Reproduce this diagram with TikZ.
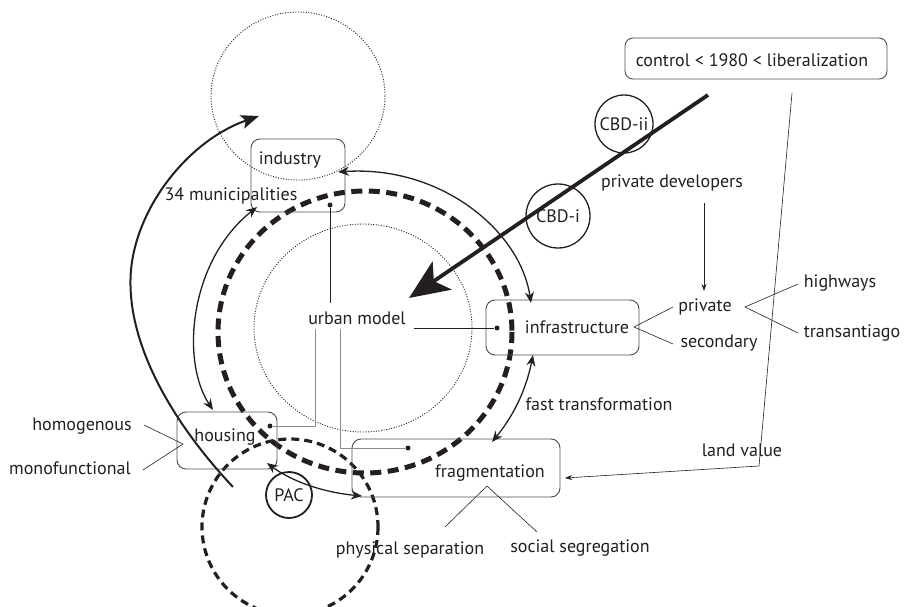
\documentclass[tikz,border=0pt]{standalone}
\usepackage{fontspec}
\setmainfont{PT Sans}
\usetikzlibrary{arrows.meta}
\definecolor{ink}{HTML}{231F20}
\definecolor{boxgray}{HTML}{4D4D4D}
\definecolor{linegray}{HTML}{8A8A8A}
\tikzset{
 box/.style={draw=boxgray, line width=0.9pt, rounded corners=9pt, inner sep=0pt},
 lbl/.style={text=ink, inner sep=0pt},
 thinl/.style={draw=ink, line width=0.6pt},
 grayl/.style={draw=linegray, line width=1pt},
 arcl/.style={draw=ink, line width=1.3pt, {Stealth[length=11pt,width=9pt]}-{Stealth[length=11pt,width=9pt]}},
 dotc/.style={draw=ink, line width=0.9pt, dash pattern=on 1pt off 1.6pt},
 blob/.style={circle, fill=ink, inner sep=0pt, minimum size=5pt},
 cbd/.style={circle, draw=ink, line width=1.3pt, inner sep=0pt, text=ink},
}
\begin{document}
\begin{tikzpicture}[x=1pt,y=-1pt, font=\fontsize{18}{21}\selectfont]
\useasboundingbox (0,0) rectangle (905,607);
% circles
\draw[dotc] (298,96) ellipse[x radius=87, y radius=84];
\draw[dotc] (363,328) ellipse[x radius=109, y radius=104];
\draw[draw=ink, line width=5pt, dash pattern=on 11pt off 6.5pt] (365,332) ellipse[x radius=147, y radius=141];
\draw[draw=ink, line width=3.2pt, dash pattern=on 8pt off 5pt] (290,527) circle[radius=88];
% boxes
\node[box, minimum width=94pt, minimum height=73pt] (indbox) at (298,175.5) {};
\node[lbl] (ind) at (290,160) {industry};
\node[lbl] (mun) at (231,196) {34 municipalities};
\node[box, minimum width=153pt, minimum height=55pt] (infbox) at (562.5,327.5) {};
\node[lbl] (inf) at (577,327) {infrastructure};
\node[box, minimum width=100pt, minimum height=57pt] (houbox) at (227,440.5) {};
\node[lbl] (hou) at (225,437) {housing};
\node[box, minimum width=208pt, minimum height=58pt] (frabox) at (456,468) {};
\node[lbl] (fra) at (490,473) {fragmentation};
\node[box, minimum width=262pt, minimum height=41pt, rounded corners=8pt] (ctlbox) at (756,58.5) {};
\node[lbl] (ctl) at (752,60) {control < 1980 < liberalization};
% labels
\node[lbl] (um) at (357,318) {urban model};
\node[lbl] (pd) at (672,183) {private developers};
\node[lbl] (pri) at (705,307) {private};
\node[lbl] (sec) at (719,343) {secondary};
\node[lbl] (hw) at (840,283) {highways};
\node[lbl] (tr) at (852,333) {transantiago};
\node[lbl] (ft) at (599,404) {fast transformation};
\node[lbl] (lv) at (742,450) {land value};
\node[lbl] (hom) at (82,426) {homogenous};
\node[lbl] (mono) at (70,468) {monofunctional};
\node[lbl] (ps) at (410,550) {physical separation};
\node[lbl] (ss) at (580,548) {social segregation};
% small circles
\node[cbd, minimum size=58pt] (cbd2) at (624,124) {CBD-ii};
\node[cbd, minimum size=64pt] (cbd1) at (558,216) {CBD-i};
\node[cbd, minimum size=46pt, line width=1.8pt] (pac) at (289,495) {PAC};
% dots
\node[blob] (idot) at (330,205) {};
\node[blob] (infdot) at (497,328) {};
\node[blob] (hdot) at (270,426) {};
\node[blob] (fdot) at (408,448) {};
% coordinates
\coordinate (umtop) at (330,303);
\coordinate (umright) at (414,328);
\coordinate (uml) at (315,329);
\coordinate (umr) at (340,329);
\coordinate (thickS) at (708,95);
\coordinate (thickT) at (409,298);
\coordinate (bigS) at (233,487);
\coordinate (bigT) at (259,116);
\coordinate (a1) at (338,172);
\coordinate (a2) at (531,303);
\coordinate (b1) at (257,207);
\coordinate (b2) at (213,410);
\coordinate (c1) at (533,355);
\coordinate (c2) at (492,442);
\coordinate (d1) at (267,463);
\coordinate (d2) at (362,496);
\coordinate (pdS) at (704,203);
\coordinate (pdT) at (704,291);
\coordinate (lvS) at (792,93);
\coordinate (lvK) at (759,466);
\coordinate (lvT) at (565,478);
% connectors
\draw[draw=ink, line width=0.9pt] (idot) -- (umtop);
\draw[draw=ink, line width=0.9pt] (umright) -- (infdot);
\draw[grayl] (uml) |- (hdot);
\draw[grayl] (umr) |- (fdot);
\draw[draw=ink, line width=3.8pt, -{Stealth[length=40pt,width=34pt,inset=10pt]}] (thickS) -- (thickT);
\draw[draw=ink, line width=2pt, -{Stealth[length=18pt,width=14pt,inset=4pt]}] (bigS) .. controls (170,420) and (125,340) .. (131,270) .. controls (137,205) and (190,140) .. (bigT);
\draw[arcl] (a1) .. controls (440,165) and (520,230) .. (a2);
\draw[arcl] (b1) .. controls (190,260) and (180,360) .. (b2);
\draw[arcl] (c1) .. controls (525,395) and (510,420) .. (c2);
\draw[arcl] (d1) .. controls (290,480) and (320,492) .. (d2);
\draw[thinl, -{Stealth[length=7pt,width=5pt]}] (pdS) -- (pdT);
\draw[thinl, -{Stealth[length=7pt,width=5pt]}] (lvS) -- (lvK) -- (lvT);
% branch lines
\draw[thinl] (673,307) -- (634,327) -- (673,344);
\draw[thinl] (798,284) -- (745,307) -- (798,333);
\draw[thinl] (144,425) -- (183,444) -- (143,470);
\draw[thinl] (445,527) -- (487,486) -- (537,532);
\end{tikzpicture}
\end{document}
